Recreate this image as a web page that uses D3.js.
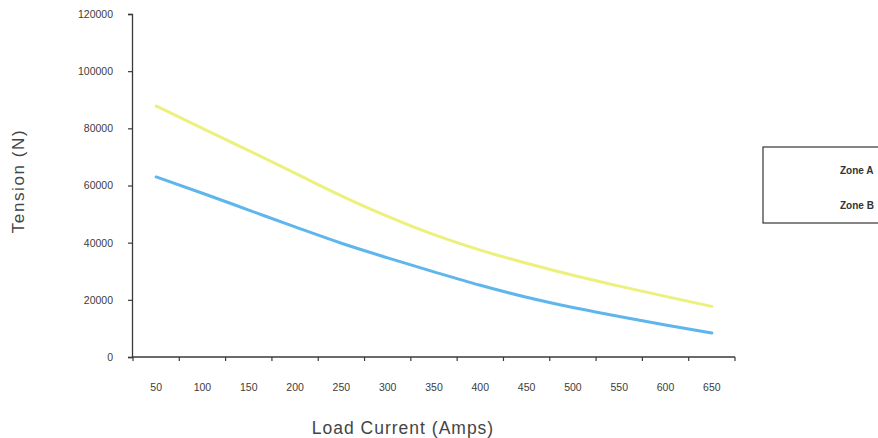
<!DOCTYPE html>
<html>
<head>
<meta charset="utf-8">
<script src="https://cdn.jsdelivr.net/npm/d3@7"></script>
<style>
  html, body { margin: 0; padding: 0; background: #fff; }
  svg { display: block; font-family: "Liberation Sans", Arial, sans-serif; }
</style>
</head>
<body>
<svg id="chart" width="878" height="438"></svg>
<script>
// Load current categories (Amps)
const currents = [50, 100, 150, 200, 250, 300, 350, 400, 450, 500, 550, 600, 650];
// Conductor tension (N) per zone
const zoneA = [87800, 80000, 72200, 64300, 56400, 49200, 42800, 37400, 32800, 28600, 24800, 21200, 17700];
const zoneB = [63000, 57300, 51400, 45500, 39800, 34700, 29800, 25100, 20900, 17300, 14200, 11200, 8400];
const yTicks = [0, 20000, 40000, 60000, 80000, 100000, 120000];
const seriesNames = ["Zone A", "Zone B"];
const seriesColors = ["#ecf07c", "#5fb6ec"];

const svg = d3.select("#chart");
const axisColor = "#3a3a3a";
const textColor = "#3c3c3c";

const x = d3.scaleBand().domain(currents).range([133, 735]).paddingInner(0).paddingOuter(0);
const y = d3.scaleLinear().domain([0, 120000]).range([357, 14]);
const cx = d => x(d) + x.bandwidth() / 2;

// Y axis
const yAxis = d3.axisLeft(y).tickValues(yTicks).tickSize(4).tickPadding(15).tickFormat(d3.format("d"));
const gy = svg.append("g").attr("transform", "translate(132,0)").call(yAxis);
gy.select(".domain").attr("stroke", axisColor).attr("stroke-width", 1.3);
gy.selectAll(".tick line").attr("stroke", axisColor).attr("stroke-width", 1.2);
gy.selectAll(".tick text").attr("fill", textColor).attr("font-size", 10.5);

// X axis: ticks sit on the category boundaries, labels in the middle of each band
const gx = svg.append("g").attr("transform", "translate(0,357)");
gx.append("line").attr("x1", 132).attr("x2", 735).attr("y1", 0).attr("y2", 0)
  .attr("stroke", axisColor).attr("stroke-width", 1.3);
const bounds = currents.map(c => x(c)).concat([x(currents[currents.length - 1]) + x.bandwidth()]);
gx.selectAll("line.tk").data(bounds).join("line").attr("class", "tk")
  .attr("x1", d => d).attr("x2", d => d).attr("y1", 0).attr("y2", 4)
  .attr("stroke", axisColor).attr("stroke-width", 1.2);
gx.selectAll("text").data(currents).join("text")
  .attr("x", d => cx(d)).attr("y", 34).attr("text-anchor", "middle")
  .attr("fill", textColor).attr("font-size", 10.5).text(d => d);

// Axis titles
svg.append("text").attr("transform", "translate(24,181) rotate(-90)")
  .attr("text-anchor", "middle").attr("fill", "#444").attr("font-size", 17)
  .attr("letter-spacing", 1.6)
  .text("Tension (N)");
svg.append("text").attr("x", 403).attr("y", 434).attr("text-anchor", "middle")
  .attr("fill", "#444").attr("font-size", 17.5).attr("letter-spacing", 1)
  .text("Load Current (Amps)");

// Series lines
const line = d3.line().x(d => cx(d[0])).y(d => y(d[1])).curve(d3.curveMonotoneX);
[zoneA, zoneB].forEach((vals, i) => {
  svg.append("path").datum(currents.map((c, j) => [c, vals[j]]))
    .attr("d", line).attr("fill", "none")
    .attr("stroke", seriesColors[i]).attr("stroke-width", 3).attr("stroke-linecap", "round");
});

// Legend (box runs past the right edge of the canvas)
const lg = svg.append("g").attr("transform", "translate(763,147)");
lg.append("rect").attr("x", 0).attr("y", 0).attr("width", 140).attr("height", 76)
  .attr("fill", "#fff").attr("stroke", "#444").attr("stroke-width", 1.3);
lg.selectAll("text").data(seriesNames).join("text")
  .attr("x", 77).attr("y", (d, i) => 27 + i * 35)
  .attr("fill", "#333").attr("font-size", 10).attr("font-weight", "bold").text(d => d);
</script>
</body>
</html>
